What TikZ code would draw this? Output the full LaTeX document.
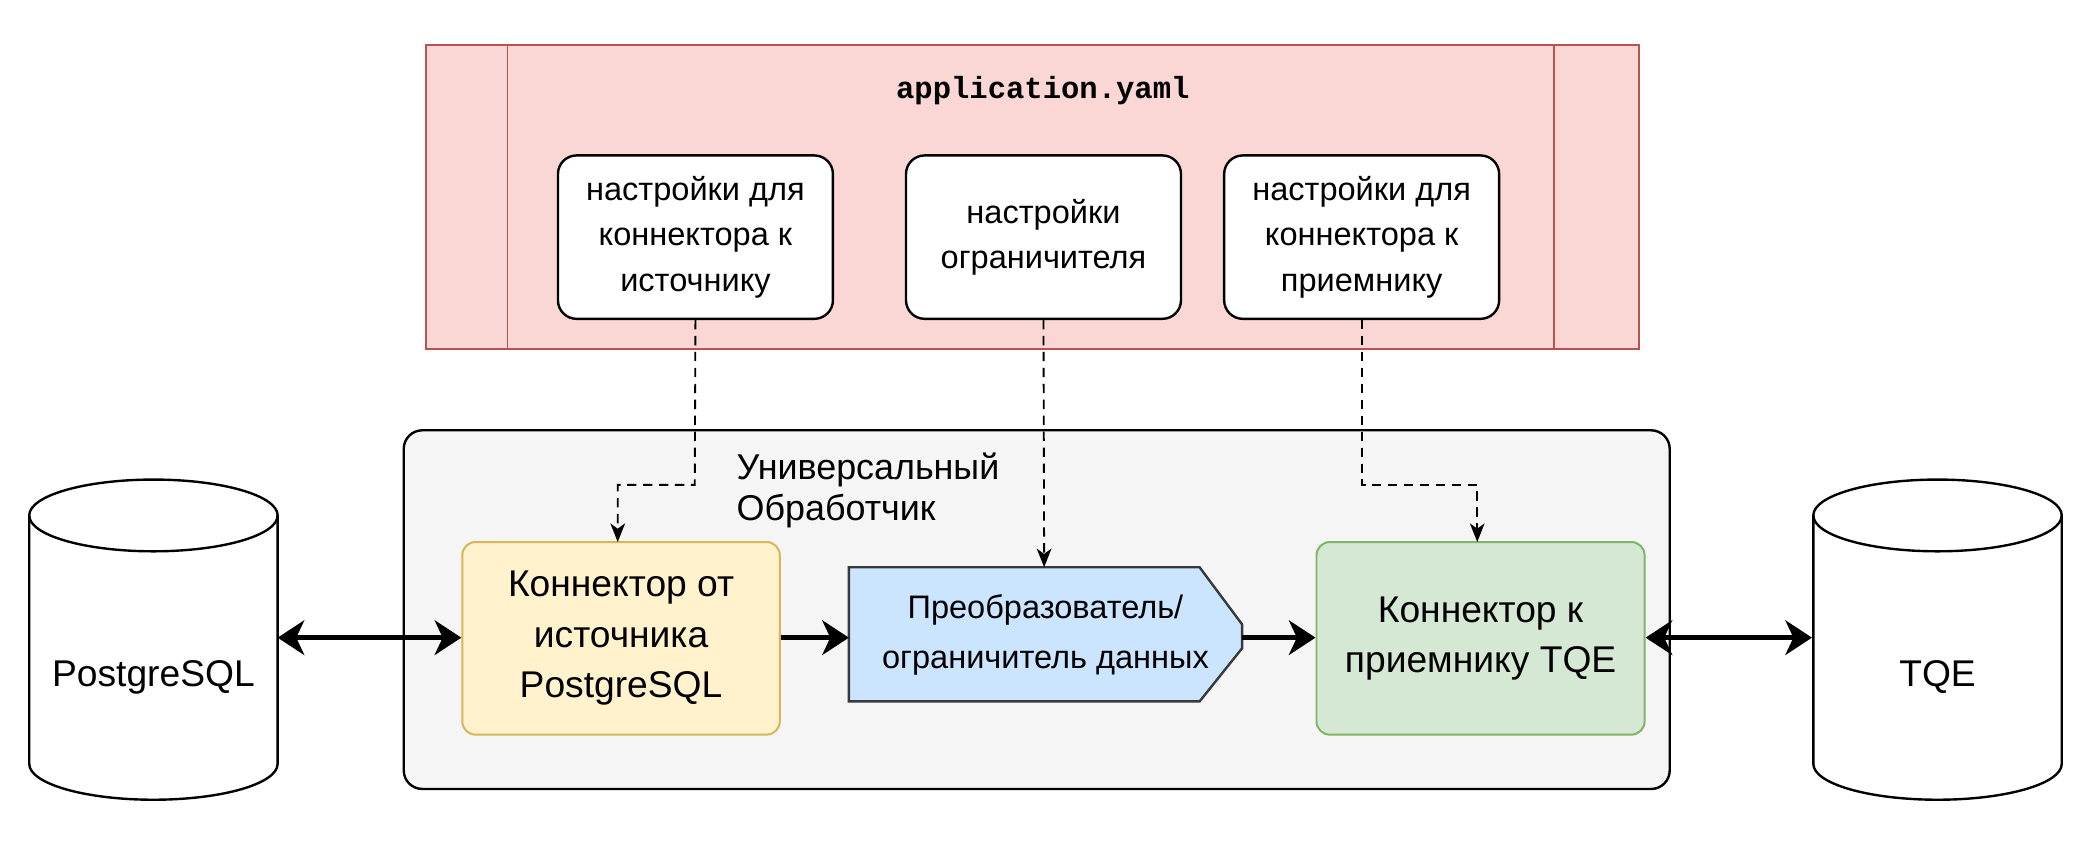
\documentclass[tikz,border=0pt]{standalone}
\usepackage{fontspec}
\setmainfont{Liberation Sans}
\setmonofont{Liberation Mono}
\usetikzlibrary{arrows.meta,shapes.geometric}
\definecolor{redf}{HTML}{FAD7D4}\definecolor{redd}{HTML}{B85450}
\definecolor{grf}{HTML}{F5F5F5}\definecolor{grd}{HTML}{666666}
\definecolor{yf}{HTML}{FFF2CC}\definecolor{yd}{HTML}{D6B656}
\definecolor{bf}{HTML}{CCE5FF}\definecolor{bd}{HTML}{36393D}
\definecolor{gf}{HTML}{D5E8D4}\definecolor{gd}{HTML}{82B366}
\begin{document}
\begin{tikzpicture}[x=1pt,y=-1pt,
  set/.style={draw,line width=1.8pt,fill=white,rounded corners=14pt,minimum width=207pt,minimum height=123pt,align=center,font=\fontsize{24.5}{34}\selectfont},
  big/.style={rounded corners=10pt,line width=1.5pt,align=center,font=\fontsize{28}{38}\selectfont},
  dsh/.style={dash pattern=on 7pt off 5pt,line width=1.4pt,-{Stealth[length=14pt,width=11pt,inset=4pt]}},
  thick arr/.style={line width=4pt,-{Stealth[length=20pt,width=26pt,inset=6pt]}},
  dbl/.style={line width=4pt,{Stealth[length=20pt,width=26pt,inset=6pt]}-{Stealth[length=20pt,width=26pt,inset=6pt]}}]
\useasboundingbox (0,0) rectangle (1565,638);
% yaml box
\node[draw=redd,fill=redf,line width=1.5pt,minimum width=913pt,minimum height=229pt,anchor=north west] (yaml) at (320,33) {};
\draw[redd,line width=1.2pt] (382,33) -- (382,262) (1170,33) -- (1170,262);
\node[font=\ttfamily\bfseries\fontsize{23}{26}\selectfont] (title) at (785,68) {application.yaml};
\node[set] (s1) at (523.5,178.5) {настройки для\\коннектора к\\источнику};
\node[set] (s2) at (785.5,178.5) {настройки\\ограничителя};
\node[set] (s3) at (1025,178.5) {настройки для\\коннектора к\\приемнику};
% container
\node[draw=black,fill=grf,line width=1.8pt,rounded corners=14pt,minimum width=953pt,minimum height=270pt,anchor=north west] (cont) at (303,323) {};
\node[font=\fontsize{27}{31}\selectfont,align=left,anchor=north west] (lbl) at (551,337) {Универсальный\\Обработчик};
\node[big,draw=yd,fill=yf,minimum width=239pt,minimum height=145pt] (y) at (467.5,480.5) {Коннектор от\\источника\\PostgreSQL};
\node[big,draw=gd,fill=gf,minimum width=247pt,minimum height=145pt] (g) at (1114.5,480.5) {Коннектор к\\приемнику TQE};
\draw[bd,fill=bf,line width=1.8pt] (639,427) -- (903,427) -- (935,470) -- (935,488) -- (903,528) -- (639,528) -- cycle;
\node[align=center,font=\fontsize{24.5}{38}\selectfont] (b) at (787,478) {Преобразователь/\\ограничитель данных};
\coordinate (btop) at (786,427);
\coordinate (bl) at (639,480);
\coordinate (br) at (935,480);
% cylinders
\foreach \n/\cx/\t in {c1/115.5/PostgreSQL,c2/1458.5/TQE}{
  \draw[line width=1.8pt,fill=white] (\cx-93.5,388) -- (\cx-93.5,575) arc[start angle=180,end angle=0,x radius=93.5,y radius=27] -- (\cx+93.5,388) arc[start angle=0,end angle=-180,x radius=93.5,y radius=27];
  \draw[line width=1.8pt] (\cx-93.5,388) arc[start angle=180,end angle=0,x radius=93.5,y radius=27];
  \node[font=\fontsize{28}{30}\selectfont] (\n) at (\cx,510) {\t};
}
\coordinate (c1r) at (209,480);
\coordinate (c2l) at (1364,480);
% arrows
\draw[dbl] (c1r) -- (y.west|-c1r);
\draw[thick arr] (y.east|-bl) -- (bl);
\draw[thick arr] (br) -- (g.west|-br);
\draw[dbl] (g.east|-c2l) -- (c2l);
\draw[dsh] (s1.south) -- (523,365) -- (465,365) -- (465,408);
\draw[dsh] (s2.south) -- (btop);
\draw[dsh] (s3.south) -- (1025,365) -- (1112,365) -- (1112,408);
\end{tikzpicture}
\end{document}
